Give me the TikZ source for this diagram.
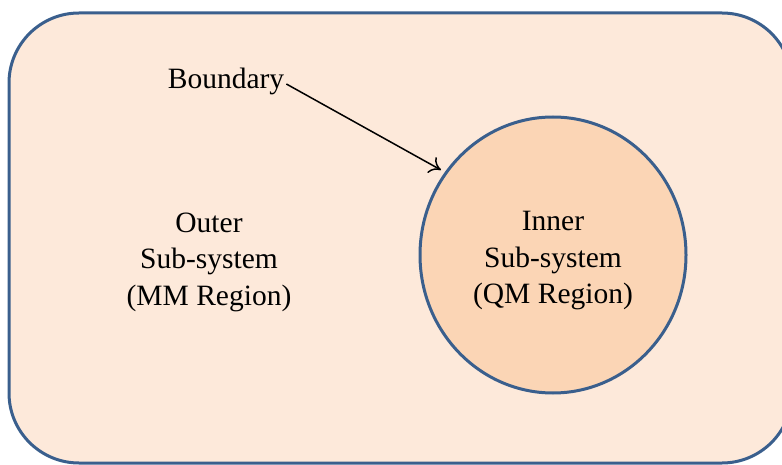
\documentclass[tikz,border=0pt]{standalone}
\usepackage{fontspec}
\setmainfont{Liberation Serif}
\usepackage{tikz}
\usetikzlibrary{arrows.meta, positioning, shapes.geometric}

\definecolor{outerfill}{HTML}{FDE9DA}
\definecolor{innerfill}{HTML}{FBD5B5}
\definecolor{edgeblue}{HTML}{3A5F8D}

\begin{document}
\begin{tikzpicture}[x=1pt, y=1pt,
  region/.style={font=\fontsize{29.5}{36.5}\selectfont, align=center},
  pointer/.style={-{To[length=11pt, width=18pt]}, line width=1.5pt, black}]
  \useasboundingbox (0,0) rectangle (782,464);
  \clip (0,0) rectangle (782,464);

  % Outer sub-system box (runs past the right edge)
  \draw[edgeblue, fill=outerfill, line width=3pt, rounded corners=70pt]
    (9,1) rectangle (792,451);

  % Inner sub-system
  \node[ellipse, draw=edgeblue, fill=innerfill, line width=3pt,
        minimum width=266pt, minimum height=276pt, inner sep=0pt]
    (inner) at (553,209) {};

  % Labels
  \node[region] (outer) at (209,202) {Outer\\Sub-system\\(MM Region)};
  \node[region] (innerlbl) at (553,203) {Inner\\Sub-system\\(QM Region)};
  \node[font=\fontsize{29.5}{34}\selectfont, inner sep=2pt] (bnd) at (226,383) {Boundary};

  % Boundary pointer
  \coordinate (tip) at (441,294);
  \draw[pointer] ([yshift=-3pt]bnd.east) -- (tip);
\end{tikzpicture}
\end{document}
